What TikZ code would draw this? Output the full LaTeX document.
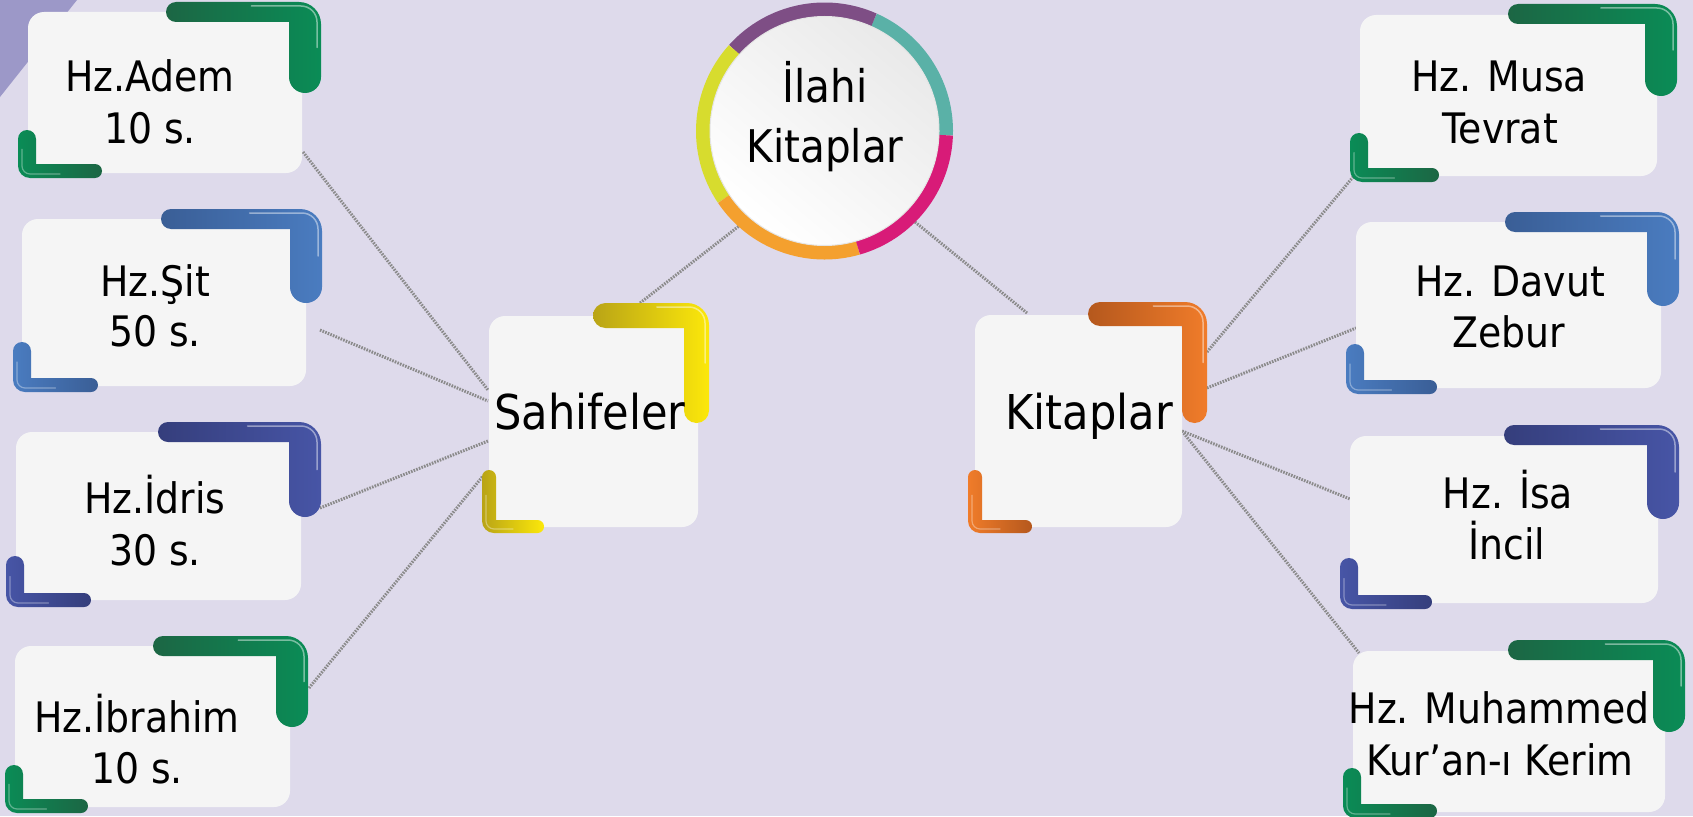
\documentclass[tikz,border=0pt]{standalone}
\usepackage{fontspec}
\setmainfont{DejaVu Sans}[FakeStretch=0.9]
\usetikzlibrary{calc}
\pgfdeclarelayer{bg}
\pgfsetlayers{bg,main}
\definecolor{bgc}{HTML}{DEDAEB}
\definecolor{trc}{HTML}{9C98C8}
\definecolor{boxc}{HTML}{F5F5F5}
\definecolor{connc}{HTML}{8A8A8A}
\definecolor{gd}{HTML}{1C6644}
\definecolor{gl}{HTML}{0A8C56}
\definecolor{bd}{HTML}{3A5E96}
\definecolor{bl}{HTML}{4A7CC0}
\definecolor{id}{HTML}{353E7C}
\definecolor{il}{HTML}{4755A6}
\definecolor{yd}{HTML}{B9A416}
\definecolor{yl}{HTML}{FCE80A}
\definecolor{od}{HTML}{B5581D}
\definecolor{ol}{HTML}{F07C2A}
\definecolor{rpurple}{HTML}{7E4E85}
\definecolor{rteal}{HTML}{5AB1A7}
\definecolor{rmag}{HTML}{D81B78}
\definecolor{rorange}{HTML}{F4A02E}
\definecolor{ryellow}{HTML}{D7DC2E}
\tikzset{
  box/.style={rectangle, rounded corners=16pt, fill=boxc, inner sep=0pt, outer sep=0pt},
  lbl/.style={anchor=base, inner sep=0pt, font=\fontsize{42}{50}\selectfont},
  biglbl/.style={anchor=base, inner sep=0pt, font=\fontsize{48}{58}\selectfont},
  circlbl/.style={anchor=base, inner sep=0pt, font=\fontsize{45}{54}\selectfont},
  conn/.style={draw=connc, line width=3pt, dash pattern=on 1.6pt off 1.2pt},
  ring/.style={line width=15pt, line cap=butt},
}
% top-right bracket: right x, top y, horiz length, vert length, horiz thickness, vert thickness, dark, light
\newcommand{\brTR}[8]{%
\begin{scope}[shift={(#1,#2)}, y=1pt]
\shade[left color=#7, right color=#8] ({-#3+#5/2},0) -- (-22,0) arc (90:0:22) -- (0,{-#4+#6/2}) arc (0:-180:{#6/2}) -- (-#6,-#5) -- ({-#3+#5/2},-#5) arc (270:90:{#5/2}) -- cycle;
\draw[white, opacity=.45, line width=1.5pt, line cap=round] ({-#3*0.45},-4) -- (-20,-4) arc (90:0:16) -- (-4,{-#4*0.5});
\end{scope}}
% bottom-left bracket: left x, bottom y, horiz length, vert length, horiz thickness, vert thickness, dark, light
\newcommand{\brBL}[8]{%
\begin{scope}[shift={(#1,#2)}, y=1pt]
\shade[left color=#8, right color=#7] (0,12) -- (0,{#4-#6/2}) arc (180:0:{#6/2}) -- (#6,#5) -- ({#3-#5/2},#5) arc (90:-90:{#5/2}) -- (12,0) arc (270:180:12) -- cycle;
\draw[white, opacity=.35, line width=1.2pt, line cap=round] (4,{#4*0.6}) -- (4,12) arc (180:270:8) -- ({#3*0.5},4);
\end{scope}}
\begin{document}
\begin{tikzpicture}[x=1pt, y=-1pt]
\useasboundingbox (0,0) rectangle (1693,816);

% boxes
\node[box, minimum width=274pt, minimum height=161pt] (adem) at (165,92.5) {};
\node[box, minimum width=284pt, minimum height=167pt] (sit) at (164,302.5) {};
\node[box, minimum width=285pt, minimum height=168pt] (idris) at (158.5,516) {};
\node[box, minimum width=275pt, minimum height=161pt] (ibrahim) at (152.5,726.5) {};
\node[box, minimum width=297pt, minimum height=161pt] (musa) at (1508.5,95.5) {};
\node[box, minimum width=305pt, minimum height=166pt] (davut) at (1508.5,305) {};
\node[box, minimum width=308pt, minimum height=167pt] (isa) at (1504,519.5) {};
\node[box, minimum width=312pt, minimum height=161pt] (muh) at (1509,731.5) {};
\node[box, minimum width=209pt, minimum height=211pt] (sah) at (593.5,421.5) {};
\node[box, minimum width=207pt, minimum height=212pt] (kit) at (1078.5,421) {};

% brackets
\brTR{321}{2}{155}{91}{20}{32}{gd}{gl}
\brBL{18}{178}{84}{48}{14}{18}{gd}{gl}
\brTR{322}{209}{161}{94}{20}{32}{bd}{bl}
\brBL{13}{392}{85}{50}{14}{18}{bd}{bl}
\brTR{321}{422}{163}{95}{20}{32}{id}{il}
\brBL{6}{607}{85}{51}{14}{18}{id}{il}
\brTR{308}{636}{155}{91}{20}{32}{gd}{gl}
\brBL{5}{813}{83}{48}{14}{18}{gd}{gl}
\brTR{1677}{4}{169}{92}{20}{32}{gd}{gl}
\brBL{1350}{182}{89}{49}{14}{18}{gd}{gl}
\brTR{1679}{212}{174}{94}{20}{32}{bd}{bl}
\brBL{1346}{394}{91}{50}{14}{18}{bd}{bl}
\brTR{1679}{425}{175}{94}{20}{32}{id}{il}
\brBL{1340}{609}{92}{51}{14}{18}{id}{il}
\brTR{1685}{640}{177}{92}{20}{32}{gd}{gl}
\brBL{1343}{818}{94}{50}{14}{18}{gd}{gl}
\brTR{709}{303}{116}{120}{25}{25}{yd}{yl}
\brBL{482}{533}{62}{63}{13}{14}{yl}{yd}
\brTR{1207}{302}{119}{121}{24}{25}{od}{ol}
\brBL{968}{533}{64}{63}{13}{14}{od}{ol}

% central circle
\begin{scope}[shift={(824.5,131)}, y=1pt]
\draw[ring, rteal] (-2:121) arc (-2:66:121);
\draw[ring, rpurple] (66:121) arc (66:138:121);
\draw[ring, ryellow] (138:121) arc (138:214:121);
\draw[ring, rorange] (214:121) arc (214:286:121);
\draw[ring, rmag] (286:121) arc (286:358:121);
\end{scope}
\node[circle, minimum size=229pt, inner sep=0pt, outer sep=0pt, draw=gray!20, line width=1pt,
      shade, shading=axis, top color=gray!17, bottom color=white, shading angle=-40] (circ) at (824.5,131) {};

% labels
\node[lbl] (adem-a) at (150,92) {Hz.Adem};
\node[lbl] (adem-b) at (150,143) {10 s.};
\node[lbl] (sit-a) at (155,296) {Hz.Şit};
\node[lbl] (sit-b) at (155,346) {50 s.};
\node[lbl] (idris-a) at (155,513) {Hz.İdris};
\node[lbl] (idris-b) at (155,565) {30 s.};
\node[lbl] (ibrahim-a) at (137,732) {Hz.İbrahim};
\node[lbl] (ibrahim-b) at (137,783) {10 s.};
\node[lbl] (musa-a) at (1499,91) {Hz. Musa};
\node[lbl] (musa-b) at (1500,143) {Tevrat};
\node[lbl] (davut-a) at (1510,296) {Hz. Davut};
\node[lbl] (davut-b) at (1509,347) {Zebur};
\node[lbl] (isa-a) at (1508,508) {Hz. İsa};
\node[lbl] (isa-b) at (1507,559) {İncil};
\node[lbl] (muh-a) at (1499,723) {Hz. Muhammed};
\node[lbl] (muh-b) at (1500,775) {Kur’an-ı Kerim};
\node[biglbl] (sah-t) at (590,429) {Sahifeler};
\node[biglbl] (kit-t) at (1089,429) {Kitaplar};
\node[circlbl] (circ-a) at (825,102) {İlahi};
\node[circlbl] (circ-b) at (825,162) {Kitaplar};

\begin{pgfonlayer}{bg}
\fill[bgc] (0,0) rectangle (1693,816);
\fill[trc] (0,0) -- (77,0) -- (0,97) -- cycle;
\draw[conn] ($(adem.south east)+(1,-21)$) -- ($(sah.west)+(-1,-31.5)$);
\draw[conn] ($(sit.east)+(14,27.5)$) -- ($(sah.west)+(-1,-20.5)$);
\draw[conn] ($(idris.east)+(19,-8)$) -- ($(sah.west)+(-1,19.5)$);
\draw[conn] ($(ibrahim.east)+(19,-38.5)$) -- ($(sah.west)+(-6,54.5)$);
\draw[conn] ($(sah.north)+(46.5,-13)$) -- ($(circ.center)+(-85.5,95)$);
\draw[conn] ($(circ.center)+(90.5,91)$) -- ($(kit.north)+(-51.5,-2)$);
\draw[conn] ($(kit.east)+(25,-69)$) -- ($(musa.south west)+(-7,1)$);
\draw[conn] ($(kit.east)+(25,-33)$) -- ($(davut.west)+(0,23)$);
\draw[conn] ($(kit.east)+(0,10)$) -- ($(isa.west)+(0,-20.5)$);
\draw[conn] ($(kit.east)+(0,10)$) -- ($(muh.north west)+(6,2)$);
\end{pgfonlayer}
\end{tikzpicture}
\end{document}
